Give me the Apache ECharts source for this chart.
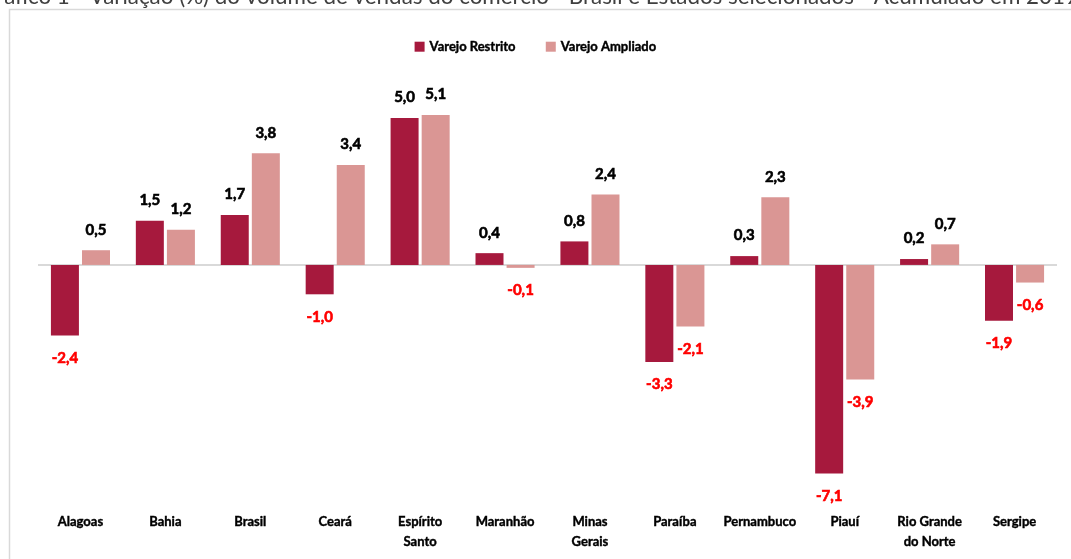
<!DOCTYPE html>
<html>
<head>
<meta charset="utf-8">
<script src="https://cdn.jsdelivr.net/npm/echarts@6/dist/echarts.min.js"></script>
<style>
html,body{margin:0;padding:0;background:#fff;}
#chart{width:1071px;height:559px;}
</style>
</head>
<body>
<div id="chart"></div>
<script>
const titleText = 'Gráfico 1 - Variação (%) do volume de vendas do comércio - Brasil e Estados selecionados - Acumulado em 2019';
const categories = ['Alagoas','Bahia','Brasil','Ceará','Espírito\nSanto','Maranhão','Minas\nGerais','Paraíba','Pernambuco','Piauí','Rio Grande\ndo Norte','Sergipe'];
const seriesNames = ['Varejo Restrito','Varejo Ampliado'];
const varejoRestrito = [-2.4, 1.5, 1.7, -1.0, 5.0, 0.4, 0.8, -3.3, 0.3, -7.1, 0.2, -1.9];
const varejoAmpliado = [0.5, 1.2, 3.8, 3.4, 5.1, -0.1, 2.4, -2.1, 2.3, -3.9, 0.7, -0.6];
const colors = ['#A6193D', '#DA9694'];
const FONT = 'Lato, "Open Sans", sans-serif';
const BOLD = 'bold';
const THICK = 0.6;

function toItems(arr){
  return arr.map(v => {
    const c = v < 0 ? '#FF0000' : '#000000';
    return {
      value: v,
      label: {
        position: v < 0 ? 'bottom' : 'top',
        color: c, textBorderColor: c, textBorderWidth: THICK,
        distance: v < 0 ? 15 : 13
      }
    };
  });
}
const fmt = p => p.value.toFixed(1).replace('.', ',');

const chart = echarts.init(document.getElementById('chart'));
chart.setOption({
  animation: false,
  backgroundColor: '#ffffff',
  graphic: [
    { type: 'text', left: -20, top: -14, z: 10,
      style: { text: titleText, font: '22.4px ' + FONT, fill: '#404040' } },
    { type: 'rect', shape: { x: 9.5, y: 9.5, width: 1200, height: 700 },
      style: { fill: 'none', stroke: '#d9d9d9', lineWidth: 1.5 }, z: -1 }
  ],
  legend: {
    top: 35, left: 'center',
    itemWidth: 10, itemHeight: 10, itemGap: 30,
    icon: 'rect',
    textStyle: { fontFamily: FONT, fontWeight: BOLD, fontSize: 13, color: '#000', textBorderColor: '#000', textBorderWidth: 0.4 },
    data: seriesNames
  },
  grid: { left: 38, right: 14, top: 88.6, bottom: 59, containLabel: false },
  xAxis: {
    type: 'category',
    data: categories,
    axisLine: { show: false },
    axisTick: { show: false },
    axisLabel: { fontFamily: FONT, fontWeight: BOLD, fontSize: 13, color: '#000', textBorderColor: '#000', textBorderWidth: 0.4, lineHeight: 20, margin: 12, interval: 0 }
  },
  yAxis: {
    type: 'value', min: -8, max: 6, interval: 2,
    show: false,
    splitLine: { show: false }
  },
  series: [
    {
      name: seriesNames[0], type: 'bar', data: toItems(varejoRestrito),
      barWidth: 28, barGap: '11%',
      itemStyle: { color: colors[0] },
      label: { show: true, formatter: fmt, fontFamily: FONT, fontWeight: BOLD, fontSize: 15 },
      markLine: {
        silent: true, symbol: 'none', label: { show: false },
        lineStyle: { color: '#d9d9d9', width: 2, type: 'solid' },
        data: [{ yAxis: 0 }], z: 1
      }
    },
    {
      name: seriesNames[1], type: 'bar', data: toItems(varejoAmpliado),
      barWidth: 28,
      itemStyle: { color: colors[1] },
      label: { show: true, formatter: fmt, fontFamily: FONT, fontWeight: BOLD, fontSize: 15 }
    }
  ]
});
</script>
</body>
</html>
